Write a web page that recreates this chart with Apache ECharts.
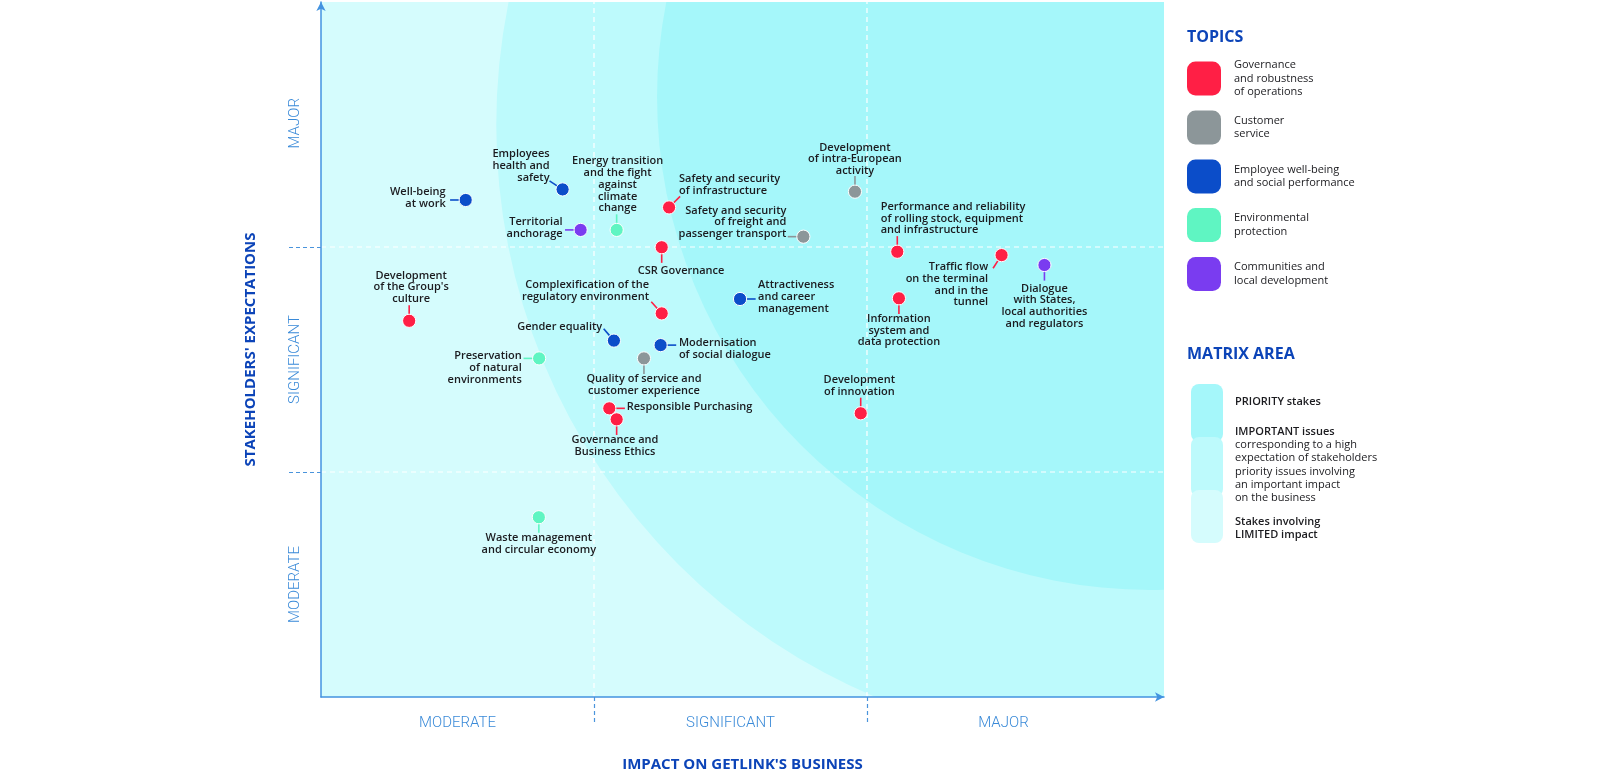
<!DOCTYPE html>
<html><head><meta charset="utf-8">
<script src="https://cdn.jsdelivr.net/npm/echarts@6/dist/echarts.min.js"></script>
<style>html,body{margin:0;padding:0;background:#fff}#c{width:1600px;height:780px}</style>
</head><body><div id="c"></div>
<script>
// ---------- DATA ----------
const topics = ['Governance and robustness of operations', 'Customer service', 'Employee well-being and social performance', 'Environmental protection', 'Communities and local development'];
const topicLabels = ['Governance\nand robustness\nof operations', 'Customer\nservice', 'Employee well-being\nand social performance', 'Environmental\nprotection', 'Communities and\nlocal development'];
const topicColors = ['#ff1f45', '#8c9699', '#0b4dc9', '#5ff5c2', '#7a3cf0'];

const issues = [
  'Well-being\nat work',
  'Employees\nhealth and\nsafety',
  'Energy transition\nand the fight\nagainst\nclimate\nchange',
  'Territorial\nanchorage',
  'Safety and security\nof infrastructure',
  'CSR Governance',
  'Development\nof intra-European\nactivity',
  'Safety and security\nof freight and\npassenger transport',
  'Performance and reliability\nof rolling stock, equipment\nand infrastructure',
  'Traffic flow\non the terminal\nand in the\ntunnel',
  'Dialogue\nwith States,\nlocal authorities\nand regulators',
  'Attractiveness\nand career\nmanagement',
  'Information\nsystem and\ndata protection',
  'Development\nof the Group\'s\nculture',
  'Complexification of the\nregulatory environment',
  'Gender equality',
  'Modernisation\nof social dialogue',
  'Preservation\nof natural\nenvironments',
  'Quality of service and\ncustomer experience',
  'Responsible Purchasing',
  'Governance and\nBusiness Ethics',
  'Development\nof innovation',
  'Waste management\nand circular economy'
];
// impact on the business (x) and stakeholders' expectations (y), 0..3 scale
const impact =      [0.530, 0.885, 1.083, 0.951, 1.275, 1.248, 1.956, 1.767, 2.111, 2.493, 2.650, 1.535, 2.117, 0.323, 1.248, 1.073, 1.244, 0.799, 1.183, 1.056, 1.083, 1.977, 0.798];
const expectation = [2.209, 2.256, 2.076, 2.076, 2.176, 1.999, 2.246, 2.046, 1.979, 1.964, 1.920, 1.769, 1.772, 1.672, 1.705, 1.584, 1.564, 1.505, 1.505, 1.283, 1.234, 1.261, 0.799];
const topicOf =     [2, 2, 3, 4, 0, 0, 1, 1, 0, 0, 4, 2, 0, 0, 0, 2, 2, 3, 1, 0, 0, 0, 3];

const xLevels = ['MODERATE', 'SIGNIFICANT', 'MAJOR'];
const yLevels = ['MODERATE', 'SIGNIFICANT', 'MAJOR'];

// ---------- LAYOUT (annotation placement, not data) ----------
// [leader angle deg, text align, text vertical align, dx, dy]
const labelLayout = [
  [180, 'right', 'middle', -20, -2],
  [213, 'right', 'bottom', -13, -6],
  [270, 'center', 'bottom', 1, -16],
  [180, 'right', 'middle', -18, -2],
  [-45, 'left', 'bottom', 10, -11],
  [90, 'left', 'top', -24, 17.5],
  [270, 'center', 'bottom', 0, -15],
  [180, 'right', 'bottom', -17, 3],
  [270, 'left', 'bottom', -16.6, -15.7],
  [123, 'right', 'top', -13.4, 6],
  [90, 'center', 'top', 0, 17.5],
  [0, 'left', 'middle', 18, -2.3],
  [90, 'center', 'top', 0, 14.5],
  [270, 'center', 'bottom', 2, -16],
  [228, 'right', 'bottom', -12.7, -10.8],
  [229, 'right', 'middle', -11.7, -14],
  [0, 'left', 'top', 18.3, -8],
  [180, 'right', 'top', -17.3, -8],
  [90, 'center', 'top', 0, 14.5],
  [0, 'left', 'middle', 17.4, -1],
  [90, 'center', 'top', -1.7, 15],
  [270, 'center', 'bottom', -1.4, -16],
  [90, 'center', 'top', 0, 15]
];

const X_MAX = 3.088, Y_MAX = 3.089;
const zoneColors = ['#d5fcfd', '#bdfafc', '#a5f7fa'];
// circles in axis units: [cx, cy, radius(in x units)]
const zones = [[2.917, 2.542, 2.275], [3.037, 2.667, 1.806]];

const FONT = '"Open Sans", "Noto Sans", sans-serif';

function renderZones(params, api) {
  const cs = params.coordSys;
  const children = [{ type: 'rect', shape: { x: cs.x, y: cs.y, width: cs.width, height: cs.height }, style: { fill: zoneColors[0] } }];
  zones.forEach((z, i) => {
    const c = api.coord([z[0], z[1]]);
    const r = api.size([z[2], 0])[0];
    children.push({ type: 'circle', shape: { cx: c[0], cy: c[1], r: r }, style: { fill: zoneColors[i + 1] } });
  });
  [1, 2].forEach(v => {
    const a = api.coord([v, 0]), b = api.coord([v, Y_MAX]);
    children.push({ type: 'line', shape: { x1: a[0], y1: a[1], x2: b[0], y2: b[1] }, style: { stroke: '#ffffff', lineWidth: 1.2, lineDash: [5, 4] } });
    const c = api.coord([0, v]), d = api.coord([X_MAX, v]);
    children.push({ type: 'line', shape: { x1: c[0], y1: c[1], x2: d[0], y2: d[1] }, style: { stroke: '#ffffff', lineWidth: 1.2, lineDash: [5, 4] } });
  });
  return { type: 'group', children };
}

function renderIssue(params, api) {
  const idx = api.value(2);
  const p = api.coord([api.value(0), api.value(1)]);
  const L = labelLayout[idx];
  const a = L[0] * Math.PI / 180;
  const color = api.visual('color');
  const r = 6.6;
  return {
    type: 'group', children: [
      { type: 'line', shape: { x1: p[0] + Math.cos(a) * r, y1: p[1] + Math.sin(a) * r, x2: p[0] + Math.cos(a) * (r + 9), y2: p[1] + Math.sin(a) * (r + 9) }, style: { stroke: color, lineWidth: 1.6 } },
      { type: 'circle', shape: { cx: p[0], cy: p[1], r: r }, style: { fill: color, stroke: '#ffffff', lineWidth: 1 } },
      { type: 'text', style: { text: issues[idx], x: p[0] + L[3], y: p[1] + L[4], align: L[1], verticalAlign: L[2], font: '600 11px ' + FONT, fill: '#1b1b1f', lineHeight: 11.7 } }
    ]
  };
}

const series = [{
  type: 'custom', name: 'zones', silent: true, clip: true, z: 0,
  data: [[0, 0]], renderItem: renderZones
}];
topics.forEach((t, ti) => {
  const d = [];
  impact.forEach((x, i) => { if (topicOf[i] === ti) d.push([x, expectation[i], i]); });
  series.push({ type: 'custom', name: t, itemStyle: { color: topicColors[ti] }, data: d, renderItem: renderIssue, z: 5, encode: { x: 0, y: 1 } });
});

const legendCenters = [78.5, 127.5, 176.5, 225, 274];
const LEG_LH = 13.3;
const legends = topics.map((t, i) => {
  const n = topicLabels[i].split('\n').length;
  const h = Math.max(34, n * LEG_LH);
  return {
    data: [{ name: t, itemStyle: { color: topicColors[i] } }],
    orient: 'vertical', left: 1187, top: legendCenters[i] - h / 2, padding: 0,
    itemWidth: 34, itemHeight: 34, icon: 'roundRect', selectedMode: false,
    formatter: () => topicLabels[i],
    textStyle: { fontFamily: FONT, fontSize: 11, color: '#1b1b1f', lineHeight: LEG_LH, padding: [0, 0, 0, 8] }
  };
});

const matrixTexts = [
  ['PRIORITY stakes', 401.7, 600],
  ['IMPORTANT issues', 431.7, 600],
  ['corresponding to a high', 445, 400],
  ['expectation of stakeholders', 458.3, 400],
  ['priority issues involving', 471.7, 400],
  ['an important impact', 485, 400],
  ['on the business', 498.3, 400],
  ['Stakes involving', 521.7, 600],
  ['LIMITED impact', 534.5, 600]
];

const graphic = [
  { type: 'text', left: 1187, top: 29, style: { text: 'TOPICS', font: 'bold 16px ' + FONT, fill: '#0c44b8' } },
  { type: 'text', left: 1187, top: 346, style: { text: 'MATRIX AREA', font: 'bold 16px ' + FONT, fill: '#0c44b8' } },
  { type: 'rect', shape: { x: 1191, y: 384, width: 32, height: 58, r: 8 }, style: { fill: zoneColors[2] } },
  { type: 'rect', shape: { x: 1191, y: 437, width: 32, height: 60, r: 8 }, style: { fill: zoneColors[1] } },
  { type: 'rect', shape: { x: 1191, y: 490, width: 32, height: 53, r: 8 }, style: { fill: zoneColors[0] } }
].concat(matrixTexts.map(m => ({
  type: 'text', x: 1235, y: m[1], style: { text: m[0], font: m[2] + ' 11px ' + FONT, fill: '#1b1b1f', verticalAlign: 'middle' }
})));

const chart = echarts.init(document.getElementById('c'));
chart.setOption({
  animation: false,
  backgroundColor: '#ffffff',
  grid: { left: 321, right: 436, top: 2, bottom: 83 },
  xAxis: [{
    type: 'value', min: 0, max: X_MAX, position: 'bottom',
    axisLine: { show: true, lineStyle: { color: '#4393e0', width: 1.5 }, symbol: ['none', 'arrow'], symbolSize: [7, 9] },
    axisTick: { show: false }, splitLine: { show: false },
    axisLabel: { customValues: [0.5, 1.5, 2.5], formatter: v => xLevels[Math.min(2, Math.floor(v))], color: '#3a8ad8', fontFamily: 'Roboto', fontWeight: 300, fontSize: 15, margin: 19 },
    name: "IMPACT ON GETLINK'S BUSINESS", nameLocation: 'middle', nameGap: 60,
    nameTextStyle: { color: '#0c44b8', fontWeight: 'bold', fontSize: 15, fontFamily: FONT }
  }, {
    type: 'value', min: 0, max: X_MAX, position: 'bottom', offset: 13,
    axisLine: { show: false }, axisLabel: { show: false }, splitLine: { show: false },
    axisTick: { show: true, customValues: [1, 2], length: 26, lineStyle: { color: '#4a94dc', width: 1.2, type: [4, 3] } }
  }],
  yAxis: [{
    type: 'value', min: 0, max: Y_MAX, position: 'left',
    axisLine: { show: true, lineStyle: { color: '#4393e0', width: 1.5 }, symbol: ['none', 'arrow'], symbolSize: [7, 9] },
    axisTick: { show: false }, splitLine: { show: false },
    axisLabel: { customValues: [0.5, 1.5, 2.55], rotate: 90, formatter: v => yLevels[Math.min(2, Math.floor(v))], color: '#3a8ad8', fontFamily: 'Roboto', fontWeight: 300, fontSize: 15, margin: 18 },
    name: "STAKEHOLDERS' EXPECTATIONS", nameLocation: 'middle', nameGap: 63,
    nameTextStyle: { color: '#0c44b8', fontWeight: 'bold', fontSize: 15, fontFamily: FONT }
  }, {
    type: 'value', min: 0, max: Y_MAX, position: 'left', offset: 9,
    axisLine: { show: false }, axisLabel: { show: false }, splitLine: { show: false },
    axisTick: { show: true, customValues: [1, 2], length: 32, lineStyle: { color: '#4a94dc', width: 1.2, type: [4, 3] } }
  }],
  legend: legends,
  graphic: graphic,
  series: series
});
</script>
</body></html>
